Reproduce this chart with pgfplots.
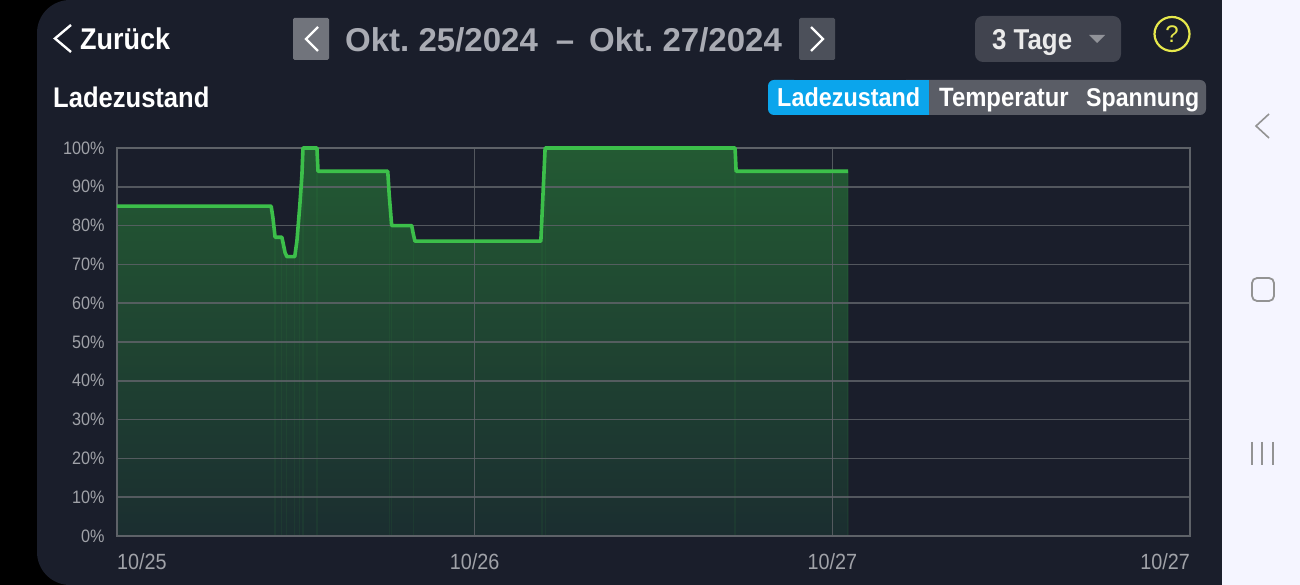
\documentclass[border=0pt]{standalone}
\usepackage{fontspec}
\setmainfont{Liberation Sans}
\newfontfamily\narrow[FakeStretch=0.9]{Liberation Sans}
\usepackage{pgfplots}
\pgfplotsset{compat=1.18}
\definecolor{panel}{HTML}{1A1E2B}
\definecolor{ticktext}{HTML}{A0A2A8}
\definecolor{gridc}{HTML}{5E6268}
\definecolor{soc}{HTML}{3CBF4A}
\definecolor{dategrey}{HTML}{A9ABB3}
\definecolor{tabblue}{HTML}{0BA5EC}
\definecolor{filltop}{HTML}{235A33}
\definecolor{fillbot}{HTML}{1B2E30}
\definecolor{helpy}{HTML}{E6E84C}
\pgfplotsset{plotbox/.style={
  at={(117pt,49pt)},anchor=south west,
  scale only axis,width=1073pt,height=388pt,
  xmin=0,xmax=3,ymin=0,ymax=100,
}}
% x = days from the left edge of the plot
\pgfplotstableread{
x y
0.000 85
0.431 85
0.436 82
0.442 77
0.461 77
0.470 73
0.475 72
0.497 72
0.503 76
0.511 85
0.517 93
0.520 100
0.559 100
0.562 94
0.757 94
0.761 88
0.768 80
0.824 80
0.828 78
0.833 76
1.185 76
1.188 82
1.197 100
1.728 100
1.731 94
2.044 94
}\socdata
\pgfplotstableread{
x y
0.442 77
0.461 77
0.475 72
0.497 72
0.511 85
0.520 100
0.559 100
0.761 88
0.768 80
0.828 78
1.188 82
1.197 100
1.728 100
2.044 94
}\stripes
\begin{document}
\begin{tikzpicture}
\path[use as bounding box] (0,0) rectangle (1300pt,585pt);
\begin{scope}[x=1pt,y=-1pt,yshift=585pt]
  \fill[black] (0,0) rectangle (1222,585);
  \fill[panel,rounded corners=33pt] (37,0) rectangle (1290,585);
  \fill[white!96!blue] (1222,0) rectangle (1300,585);
  % header
  \draw[white,line width=2.4pt] (71,25) -- (55,38.5) -- (71,52);
  \node[anchor=base west,inner sep=0,text=white,font=\narrow\bfseries\fontsize{30}{32}\selectfont] at (80,50) {Zurück};
  \fill[rounded corners=1.5pt,fill=white!38!panel] (293,18) rectangle (329,60);
  \draw[white,line width=2.4pt] (318,27) -- (306,39) -- (318,51);
  \node[anchor=base west,inner sep=0,text=dategrey,font=\bfseries\fontsize{33}{36}\selectfont] at (345,52) {Okt.\hspace{-3pt} 25/2024};
  \node[anchor=center,inner sep=0,text=dategrey,font=\bfseries\fontsize{33}{36}\selectfont] at (565,46) {–};
  \node[anchor=base west,inner sep=0,text=dategrey,font=\bfseries\fontsize{33}{36}\selectfont] at (589,52) {Okt.\hspace{-3pt} 27/2024};
  \fill[rounded corners=1.5pt,fill=white!22!panel] (799,18) rectangle (835,60);
  \draw[white,line width=2.4pt] (811,27) -- (823,39) -- (811,51);
  \fill[rounded corners=8pt,fill=white!17!panel] (975,16) rectangle (1121,62);
  \node[anchor=base west,inner sep=0,text=white!92!black,font=\narrow\bfseries\fontsize{28.7}{32}\selectfont] at (992,50) {3 Tage};
  \fill[white!52!panel] (1089,35) -- (1105,35) -- (1097,43) -- cycle;
  \draw[helpy,line width=2.2pt] (1172,34) ellipse[x radius=17.5,y radius=17];
  \node[text=helpy,inner sep=0,font=\fontsize{24}{26}\selectfont] at (1172,34) {?};
  % tabs
  \fill[rounded corners=6pt,fill=white!28!panel] (900,80) rectangle (1206,115);
  \fill[fill=tabblue,rounded corners=6pt] (768,80) rectangle (800,115);
  \fill[fill=tabblue] (780,80) rectangle (929,115);
  \fill[white!28!panel] (929,80) rectangle (960,115);
  \node[anchor=base west,inner sep=0,text=white,font=\narrow\bfseries\fontsize{26}{30}\selectfont] at (777,107) {Ladezustand};
  \node[anchor=base west,inner sep=0,text=white,font=\narrow\bfseries\fontsize{26.5}{30}\selectfont] at (939,107) {Temperatur};
  \node[anchor=base west,inner sep=0,text=white,font=\narrow\bfseries\fontsize{25.7}{30}\selectfont] at (1086,107) {Spannung};
  \node[anchor=base west,inner sep=0,text=white,font=\narrow\bfseries\fontsize{28.4}{30}\selectfont] at (53,108) {Ladezustand};
  % navigation bar
  \draw[gray!85!white,line width=1.6pt] (1269,114) -- (1256,126) -- (1269,138);
  \draw[gray!85!white,line width=1.8pt,rounded corners=5pt] (1252,278) rectangle (1274,301);
  \draw[gray!85!white,line width=1.6pt] (1252,442) -- (1252,465) (1262,442) -- (1262,465) (1273,442) -- (1273,465);
\end{scope}
% fill in its own axis so that the grid of the next one lies over it
\begin{axis}[plotbox,hide axis]
\addplot[draw=none,top color=filltop,bottom color=fillbot] table[x=x,y=y] {\socdata} \closedcycle;
\addplot[ycomb,draw=soc,line width=1.2pt,opacity=0.07] table[x=x,y=y] {\stripes};
\end{axis}
\begin{axis}[
  plotbox,
  xtick={0,1,2,3},
  xticklabels={\makebox[0pt][l]{10/25},10/26,10/27,\makebox[0pt][r]{10/27}},
  ytick={0,10,...,100},
  yticklabel={\pgfmathprintnumber{\tick}\%},
  /pgf/number format/assume math mode=true,
  major tick length=0pt,
  grid=major,
  grid style={gridc,line width=1.5pt,opacity=0.85},
  axis line style={gridc,line width=1.5pt},
  yticklabel style={xshift=-9pt,text=ticktext,font=\narrow\fontsize{18}{22}\selectfont},
  xticklabel style={yshift=-14pt,text=ticktext,font=\narrow\fontsize{22}{24}\selectfont},
  clip=false,
]
\addplot[soc,line width=3.6pt,line join=round] table[x=x,y=y] {\socdata};
\end{axis}
\end{tikzpicture}
\end{document}
